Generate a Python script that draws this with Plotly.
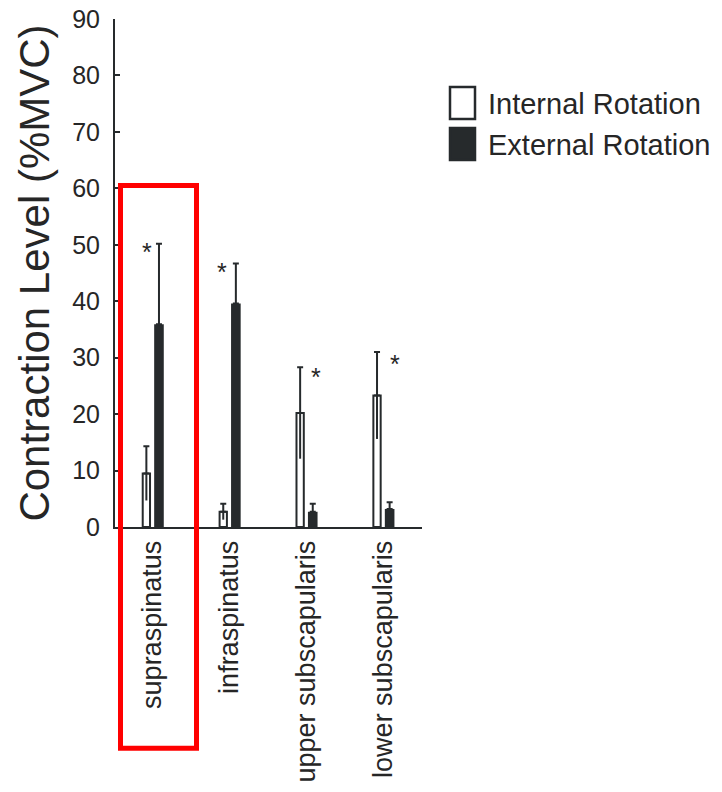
import plotly.graph_objects as go

# ---------------- data ----------------
muscles = ["supraspinatus", "infraspinatus", "upper subscapularis", "lower subscapularis"]
internal_mean = [9.5, 2.7, 20.2, 23.3]
internal_sd = [4.8, 1.4, 8.1, 7.7]
external_mean = [35.9, 39.6, 2.7, 3.2]
external_sd = [14.3, 7.1, 1.4, 1.2]
star_level = [49.9, 46.4, 27.9, 30.1]          # height of the significance asterisk
star_shift = [-0.08, -0.10, 0.125, 0.15]        # asterisk offset from group centre (category units)
y_ticks = [0, 10, 20, 30, 40, 50, 60, 70, 80, 90]
series_names = ["Internal Rotation", "External Rotation"]

# ---------------- style ----------------
DARK = "#262a2c"
TEXT = "#262626"
FONT = "Liberation Sans, Arial, sans-serif"
W, H = 722, 792
ML, MR, MT, MB = 115, 300, 19, 265
OFF = 0.082            # half distance between the two bars of a group
BW_INT = 0.095
BW_EXT = 0.125

idx = list(range(len(muscles)))
x_int = [i - OFF for i in idx]
x_ext = [i + OFF for i in idx]

fig = go.Figure()

# Internal rotation (white, outlined)
fig.add_trace(go.Bar(
    x=x_int, y=internal_mean, width=BW_INT, name=series_names[0],
    marker=dict(color="white", line=dict(color=DARK, width=2)),
    error_y=dict(type="data", symmetric=False, array=internal_sd,
                 arrayminus=[0] * len(internal_sd), color=DARK, thickness=2, width=3),
    showlegend=False,
))
# lower half of the internal error bars (no cap), visible inside the white bar
fig.add_trace(go.Scatter(
    x=x_int, y=internal_mean, mode="markers", marker=dict(opacity=0, size=1),
    error_y=dict(type="data", symmetric=False, array=[0] * len(internal_sd),
                 arrayminus=internal_sd, color=DARK, thickness=2, width=0),
    showlegend=False, hoverinfo="skip",
))
# External rotation (black)
fig.add_trace(go.Bar(
    x=x_ext, y=external_mean, width=BW_EXT, name=series_names[1],
    marker=dict(color=DARK, line=dict(color=DARK, width=0)),
    error_y=dict(type="data", symmetric=False, array=external_sd,
                 arrayminus=[0] * len(external_sd), color=DARK, thickness=2, width=3),
    showlegend=False,
))

annotations = []
for i, lvl in enumerate(star_level):
    annotations.append(dict(
        x=i + star_shift[i], y=lvl, xref="x", yref="y", text="*", showarrow=False,
        font=dict(family=FONT, size=25, color=TEXT), xanchor="center", yanchor="middle",
        yshift=-7,
    ))

# ---- custom legend (outlined / filled boxes + labels) ----
pw = W - ML - MR
ph = H - MT - MB


def px_x(p):
    return (p - ML) / pw


def px_y(p):
    return (H - MB - p) / ph


shapes = []
legend_rows = [(87, 119, "white"), (128, 160, DARK)]
for (top, bot, fill), name in zip(legend_rows, series_names):
    shapes.append(dict(type="rect", xref="paper", yref="paper",
                       x0=px_x(450), x1=px_x(475), y0=px_y(bot), y1=px_y(top),
                       fillcolor=fill, line=dict(color=DARK, width=2.5), layer="above"))
    annotations.append(dict(x=px_x(486), y=px_y((top + bot) / 2 + 1), xref="paper", yref="paper",
                            text=name, showarrow=False, xanchor="left", yanchor="middle",
                            font=dict(family=FONT, size=29, color=TEXT)))

# ---- red highlight box around supraspinatus ----
shapes.append(dict(type="rect", xref="paper", yref="paper",
                   x0=px_x(120.5), x1=px_x(196.5), y0=px_y(748.3), y1=px_y(185.5),
                   line=dict(color="#ff0000", width=5), fillcolor="rgba(0,0,0,0)", layer="above"))

fig.update_layout(
    width=W, height=H,
    margin=dict(l=ML, r=MR, t=MT, b=MB, pad=0, autoexpand=False),
    paper_bgcolor="white", plot_bgcolor="white",
    barmode="overlay",
    font=dict(family=FONT, color=TEXT),
    shapes=shapes, annotations=annotations,
    showlegend=False,
)
fig.update_xaxes(
    range=[-0.49, 3.503], tickmode="array", tickvals=idx, ticktext=muscles,
    tickangle=-90, ticks="", showline=True, linecolor=DARK, linewidth=2,
    showgrid=False, zeroline=False, tickfont=dict(family=FONT, size=27, color=TEXT),
    ticklabelstandoff=1, automargin=False,
)
fig.update_yaxes(
    range=[0, 90], tickmode="array", tickvals=y_ticks, ticks="inside", ticklen=5,
    tickwidth=2, tickcolor=DARK, showline=True, linecolor=DARK, linewidth=2,
    showgrid=False, zeroline=False, tickfont=dict(family=FONT, size=25, color=TEXT),
    ticklabelstandoff=8, automargin=False,
    title=dict(text="Contraction Level (%MVC)", font=dict(family=FONT, size=42, color=TEXT),
               standoff=9),
)

fig.write_html("out.html")
